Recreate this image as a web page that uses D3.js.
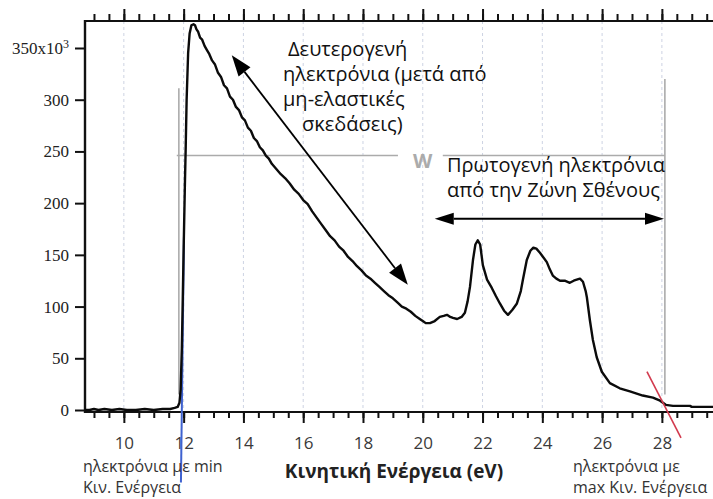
<!DOCTYPE html>
<html>
<head>
<meta charset="utf-8">
<script src="https://cdn.jsdelivr.net/npm/d3@7"></script>
<style>
  html, body { margin: 0; padding: 0; background: #fff; }
  svg { display: block; }
</style>
</head>
<body>
<svg id="chart" width="713" height="499"></svg>
<script>
// Kinetic energy (eV) of the photoelectron spectrum
const energy = [
  8.70, 8.85, 9.00, 9.15, 9.35, 9.60, 9.85, 10.10, 10.40, 10.70, 11.00, 11.30, 11.55, 11.70, 11.80,
  11.86, 11.90, 11.94, 11.97, 12.00, 12.04, 12.07, 12.10, 12.15, 12.20, 12.26, 12.33, 12.38, 12.43,
  12.48, 12.55, 12.62, 12.70, 12.78, 12.86, 12.95, 13.05, 13.15, 13.25, 13.35, 13.45, 13.55, 13.65,
  13.75, 13.85, 13.95, 14.05, 14.15, 14.25, 14.35, 14.45, 14.55, 14.65, 14.75, 14.85, 14.95, 15.10,
  15.25, 15.40, 15.55, 15.70, 15.85, 16.00, 16.15, 16.30, 16.45, 16.60, 16.75, 16.90, 17.05, 17.20,
  17.35, 17.50, 17.65, 17.80, 17.95, 18.10, 18.25, 18.40, 18.55, 18.70, 18.85, 19.00, 19.15, 19.30,
  19.45, 19.60, 19.75, 19.90, 20.00, 20.10, 20.24, 20.40, 20.57, 20.70, 20.81, 20.92, 21.01, 21.15,
  21.30, 21.41, 21.50, 21.58, 21.68, 21.76, 21.84, 21.92, 22.01, 22.15, 22.31, 22.45, 22.58, 22.72,
  22.85, 23.00, 23.15, 23.28, 23.35, 23.48, 23.60, 23.70, 23.80, 23.92, 24.05, 24.15, 24.25, 24.35,
  24.47, 24.59, 24.75, 24.92, 25.05, 25.15, 25.26, 25.36, 25.45, 25.49, 25.59, 25.69, 25.82, 25.99,
  26.26, 26.59, 26.93, 27.36, 27.70, 27.94, 28.13, 28.37, 28.94, 29.00, 29.71
];
// Electron counts (x10^3)
const counts = [
  0, 0, 1, 0, 1, 0, 1, 0, 0, 1, 0, 1, 1, 2, 3,
  7, 20, 60, 106, 155, 215, 255, 300, 345, 364, 372, 373, 372, 368,
  366, 360, 358, 352, 348, 344, 338, 334, 326, 322, 314, 311, 303, 300,
  293, 290, 283, 280, 273, 270, 263, 260, 254, 251, 246, 243, 238, 233,
  228, 224, 219, 213, 209, 203, 199, 192, 186, 180, 174, 168, 164, 158,
  154, 148, 144, 139, 135, 130, 127, 123, 119, 115, 111, 108, 104, 100,
  98, 95, 91, 88, 86, 84, 84, 86, 90, 91, 92, 90, 89, 88,
  90, 94, 105, 119, 145, 160, 164, 160, 140, 126, 118, 110, 103, 96,
  92, 97, 103, 115, 126, 145, 154, 157, 156, 152, 147, 143, 136, 130,
  127, 125, 125, 123, 125, 126, 127, 124, 115, 109, 87, 68, 51, 37,
  26, 21, 18, 14, 12, 9, 5, 4, 4, 3, 3
];

const xMajorTicks = [10, 12, 14, 16, 18, 20, 22, 24, 26, 28];
const xMinorTicks = d3.range(9, 29.75, 0.5);
const yTicks = [0, 50, 100, 150, 200, 250, 300, 350];

const svg = d3.select("#chart");
const plotLeft = 85, plotRight = 713, plotTop = 21, plotBottom = 412;

const x = d3.scaleLinear().domain([8.7, 29.71]).range([plotLeft, plotRight]);
const y = d3.scaleLinear().domain([-1.93, 376.1]).range([plotBottom, plotTop]);

const serif = "'Liberation Serif', 'Times New Roman', serif";
const sans = "'Open Sans', 'Noto Sans', sans-serif";

// vertical dashed grid at the major energies
svg.append("g")
  .selectAll("line")
  .data(xMajorTicks)
  .join("line")
  .attr("x1", d => x(d)).attr("x2", d => x(d))
  .attr("y1", plotTop).attr("y2", plotBottom)
  .attr("stroke", "#cdd3e3")
  .attr("stroke-width", 1)
  .attr("stroke-dasharray", "3,3");

// grey guide lines marking the spectrum width W
const guideColor = "#ababab";
const guides = svg.append("g").attr("stroke", guideColor).attr("stroke-width", 1.6).attr("fill", "none");
guides.append("line")
  .attr("x1", x(11.84)).attr("x2", x(11.84))
  .attr("y1", y(311)).attr("y2", y(15));
guides.append("line")
  .attr("x1", x(28.10)).attr("x2", x(28.10))
  .attr("y1", y(320)).attr("y2", y(15));
guides.append("line")
  .attr("x1", x(11.77)).attr("x2", x(19.17))
  .attr("y1", y(246)).attr("y2", y(246));
guides.append("line")
  .attr("x1", x(20.67)).attr("x2", x(28.10))
  .attr("y1", y(246)).attr("y2", y(246));

svg.append("text")
  .attr("x", x(20.0)).attr("y", 168)
  .attr("text-anchor", "middle")
  .attr("font-family", sans)
  .attr("font-weight", "bold")
  .attr("font-size", 20)
  .attr("fill", guideColor)
  .text("W");

// top frame with ticks
const topAxisMinor = d3.axisTop(x).tickValues(xMinorTicks).tickSize(7).tickFormat("");
const topAxisMajor = d3.axisTop(x).tickValues(xMajorTicks).tickSize(12).tickFormat("");
svg.append("g").attr("transform", `translate(0,${plotTop})`).call(topAxisMinor);
svg.append("g").attr("transform", `translate(0,${plotTop})`).call(topAxisMajor);

// bottom axis
const botAxisMinor = d3.axisBottom(x).tickValues(xMinorTicks).tickSize(6).tickFormat("");
const botAxisMajor = d3.axisBottom(x).tickValues(xMajorTicks).tickSize(11).tickPadding(14).tickFormat(d3.format("d"));
svg.append("g").attr("transform", `translate(0,${plotBottom})`).call(botAxisMinor);
const gxb = svg.append("g").attr("transform", `translate(0,${plotBottom})`).call(botAxisMajor);
gxb.selectAll("text")
  .attr("font-family", sans)
  .attr("font-size", 17)
  .attr("fill", "#3a3a3a");

// left axis
const yAxis = d3.axisLeft(y).tickValues(yTicks).tickSize(10).tickPadding(6).tickFormat(d => d);
const gy = svg.append("g").attr("transform", `translate(${plotLeft},0)`).call(yAxis);
gy.selectAll("text")
  .attr("font-family", serif)
  .attr("font-size", 17)
  .attr("fill", "#222");
gy.selectAll(".tick text")
  .filter(d => d === 350)
  .text(null)
  .call(t => {
    t.append("tspan").text("350x10");
    t.append("tspan").attr("dy", -6).attr("font-size", 12).text("3");
  });

svg.selectAll(".tick line")
  .attr("stroke", "#111")
  .attr("stroke-width", 2);
// straight frame lines without outer tick stubs
svg.selectAll(".domain").remove();
svg.append("line").attr("x1", plotLeft).attr("x2", plotRight).attr("y1", plotTop).attr("y2", plotTop)
  .attr("stroke", "#111").attr("stroke-width", 2.2);
svg.append("line").attr("x1", plotLeft).attr("x2", plotRight).attr("y1", plotBottom).attr("y2", plotBottom)
  .attr("stroke", "#111").attr("stroke-width", 2.2);
svg.append("line").attr("x1", plotLeft).attr("x2", plotLeft).attr("y1", plotTop - 1).attr("y2", plotBottom + 1)
  .attr("stroke", "#111").attr("stroke-width", 2.4);

// blue marker of the minimum kinetic energy cut-off
svg.append("line")
  .attr("x1", x(12.01)).attr("y1", y(167))
  .attr("x2", x(11.91)).attr("y2", y(-70))
  .attr("stroke", "#3f62d0")
  .attr("stroke-width", 2);

// spectrum
const line = d3.line().x((d, i) => x(energy[i])).y(d => y(d)).curve(d3.curveLinear);
svg.append("path")
  .datum(counts)
  .attr("d", line)
  .attr("fill", "none")
  .attr("stroke", "#0b0b0b")
  .attr("stroke-width", 2.4)
  .attr("stroke-linejoin", "round");

// red marker of the maximum kinetic energy (Fermi edge)
svg.append("line")
  .attr("x1", x(27.50)).attr("y1", y(37))
  .attr("x2", x(28.64)).attr("y2", y(-27))
  .attr("stroke", "#d23a4e")
  .attr("stroke-width", 1.6);

// double headed arrows
function arrowHead(g, tip, from, len, half) {
  const dx = tip[0] - from[0], dy = tip[1] - from[1];
  const L = Math.hypot(dx, dy), ux = dx / L, uy = dy / L;
  const bx = tip[0] - ux * len, by = tip[1] - uy * len;
  g.append("path")
    .attr("d", `M${tip[0]},${tip[1]}L${bx - uy * half},${by + ux * half}L${bx + uy * half},${by - ux * half}Z`)
    .attr("fill", "#000");
  return [bx, by];
}
function doubleArrow(p0, p1, len, half, w) {
  const g = svg.append("g");
  const a = arrowHead(g, p0, p1, len, half);
  const b = arrowHead(g, p1, p0, len, half);
  g.append("line")
    .attr("x1", a[0]).attr("y1", a[1]).attr("x2", b[0]).attr("y2", b[1])
    .attr("stroke", "#000").attr("stroke-width", w);
}
doubleArrow([x(13.61), y(343)], [x(19.50), y(121)], 21, 7.5, 1.8);
doubleArrow([x(20.40), y(185)], [x(28.07), y(185)], 19, 6, 2);

// annotation texts
function block(lines, size, fill, weight) {
  lines.forEach(l => {
    svg.append("text")
      .attr("x", l[0]).attr("y", l[1])
      .attr("font-family", sans)
      .attr("font-size", size)
      .attr("font-weight", weight || "normal")
      .attr("fill", fill)
      .text(l[2]);
  });
}
block([
  [288, 56, "Δευτερογενή"],
  [283, 81, "ηλεκτρόνια (μετά από"],
  [283, 106, "μη-ελαστικές"],
  [302, 131, "σκεδάσεις)"]
], 20, "#111");
block([
  [447, 172, "Πρωτογενή ηλεκτρόνια"],
  [447, 197, "από την Ζώνη Σθένους"]
], 20, "#111");
block([
  [83, 472, "ηλεκτρόνια με min"],
  [83, 493, "Κιν. Ενέργεια"],
  [573, 472, "ηλεκτρόνια με"],
  [573, 493, "max Κιν. Ενέργεια"]
], 16, "#333");

svg.append("text")
  .attr("x", 394).attr("y", 478)
  .attr("text-anchor", "middle")
  .attr("font-family", sans)
  .attr("font-weight", "bold")
  .attr("font-size", 19)
  .attr("fill", "#222")
  .text("Κινητική Ενέργεια (eV)");
</script>
</body>
</html>
